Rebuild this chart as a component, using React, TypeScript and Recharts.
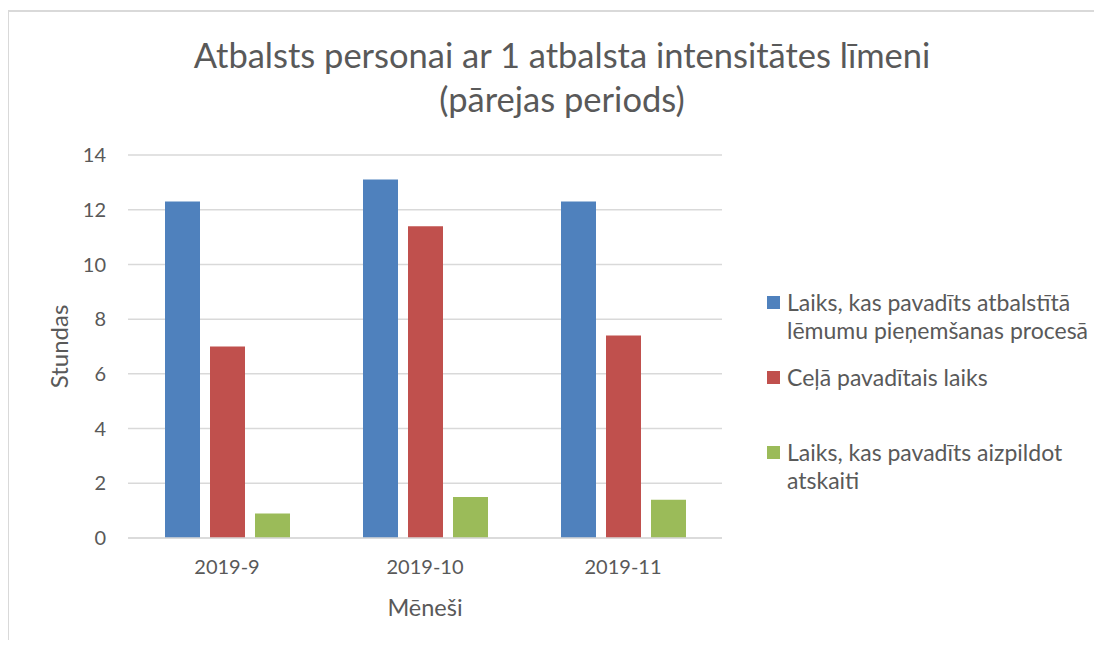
import React from "react";
import { BarChart, Bar, XAxis, YAxis, CartesianGrid, Label } from "recharts";

const months = ["2019-9", "2019-10", "2019-11"];
const decisionTime = [12.3, 13.1, 12.3];
const travelTime = [7.0, 11.4, 7.4];
const reportTime = [0.9, 1.5, 1.4];
const yTicks = [0, 2, 4, 6, 8, 10, 12, 14];

const seriesNames = [
  "Laiks, kas pavadīts atbalstītā lēmumu pieņemšanas procesā",
  "Ceļā pavadītais laiks",
  "Laiks, kas pavadīts aizpildot atskaiti",
];
const seriesKeys = ["a", "b", "c"];
const colors = ["#4F81BD", "#C0504D", "#9BBB59"];

const data = months.map((m, i) => ({
  month: m,
  a: decisionTime[i],
  b: travelTime[i],
  c: reportTime[i],
}));

const FONT = "Lato, 'Open Sans', sans-serif";
const TXT = "#595959";

export default function App() {
  return (
    <div style={{ position: "relative", margin: -8, width: 1102, height: 648, overflow: "hidden", background: "#fff" }}>
      <div
        style={{
          position: "absolute",
          left: 7,
          top: 10,
          width: 1200,
          height: 700,
          border: "2px solid #d9d9d9",
          boxSizing: "border-box",
        }}
      />
      <div
        style={{
          position: "absolute",
          left: 0,
          top: 33,
          width: 1124,
          textAlign: "center",
          fontFamily: FONT,
          fontSize: 34.5,
          color: TXT,
          lineHeight: "44px",
        }}
      >
        Atbalsts personai ar 1 atbalsta intensitātes līmeni
        <br />
        (pārejas periods)
      </div>
      <div style={{ position: "absolute", left: 0, top: 0 }}>
        <BarChart
          width={1102}
          height={648}
          data={data}
          margin={{ top: 155, right: 380, bottom: 30, left: 40 }}
          barSize={35}
          barGap={10}
        >
          <CartesianGrid vertical={false} stroke="#d9d9d9" strokeWidth={1.5} />
          <XAxis
            dataKey="month"
            axisLine={{ stroke: "#d9d9d9", strokeWidth: 1.5 }}
            tickLine={false}
            tick={{ fill: TXT, fontSize: 20, fontFamily: FONT }}
            tickMargin={16}
            height={80}
          >
            <Label
              value="Mēneši"
              position="insideBottom"
              offset={2}
              style={{ fill: TXT, fontSize: 23.5, fontFamily: FONT }}
            />
          </XAxis>
          <YAxis
            domain={[0, 14]}
            ticks={yTicks}
            axisLine={false}
            tickLine={false}
            tickSize={0}
            tickMargin={22}
            width={88}
            tick={{ fill: TXT, fontSize: 20, fontFamily: FONT }}
          >
            <Label
              value="Stundas"
              angle={-90}
              position="insideLeft"
              offset={19}
              style={{ fill: TXT, fontSize: 24, fontFamily: FONT, textAnchor: "middle" }}
            />
          </YAxis>
          {seriesKeys.map((k, i) => (
            <Bar key={k} dataKey={k} name={seriesNames[i]} fill={colors[i]} isAnimationActive={false} />
          ))}
        </BarChart>
      </div>
      <div
        style={{
          position: "absolute",
          left: 767,
          top: 288,
          width: 335,
          fontFamily: FONT,
          fontSize: 23,
          color: TXT,
          lineHeight: "28px",
        }}
      >
        {seriesNames.map((name, i) => (
          <div key={i} style={{ height: 75, display: "flex", alignItems: "flex-start" }}>
            <div
              style={{
                width: 13,
                height: 13,
                background: colors[i],
                marginTop: 8,
                marginRight: 7,
                flex: "0 0 auto",
              }}
            />
            <div style={{ width: 312 }}>{name}</div>
          </div>
        ))}
      </div>
    </div>
  );
}
